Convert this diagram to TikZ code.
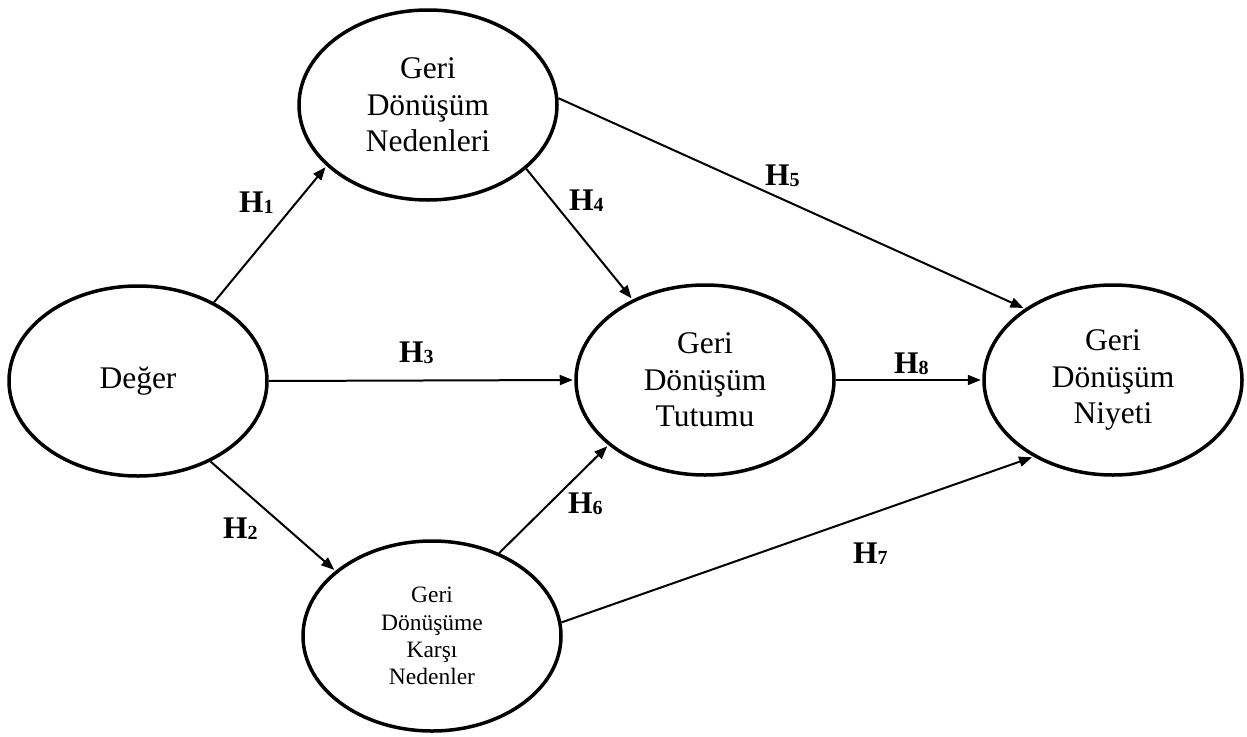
\documentclass[tikz,border=0pt]{standalone}
\usepackage{fontspec}
\setmainfont{Liberation Serif}
\usetikzlibrary{shapes.geometric,arrows.meta}

\newcommand{\hlab}[1]{\textbf{H\raisebox{-1pt}{\fontsize{20}{20}\selectfont\bfseries #1}}}

\begin{document}
\begin{tikzpicture}[x=1pt, y=-1pt, line join=round, >={Triangle[length=13pt,width=10pt]},
	construct/.style={ellipse, draw, line width=3.5pt, minimum width=258pt, minimum height=190pt, inner sep=0pt, align=center, font=\fontsize{31.5}{36.5}\selectfont},
	link/.style={->, line width=2pt, shorten >=1.5pt},
	hyp/.style={anchor=base west, inner sep=0pt, font=\fontsize{31.5}{36.5}\selectfont}]
			\useasboundingbox (0,0) rectangle (1247,736);
			
			\node[construct] (deger) at (138,381) {Değer};
			\node[construct] (neden) at (428,105) {Geri\\Dönüşüm\\Nedenleri};
			\node[construct] (tutum) at (705,380) {Geri\\Dönüşüm\\Tutumu};
			\node[construct] (niyet) at (1113,380) {Geri\\Dönüşüm\\Niyeti};
			\node[construct, font=\fontsize{23.5}{27.3}\selectfont] (karsi) at (432,636) {Geri\\Dönüşüme\\Karşı\\Nedenler};
			
			\draw[link] (deger.46.7) -- (neden.211.5);
			\draw[link] (deger.-48.4) -- (karsi.146.2);
			\draw[link] (deger.east) -- (tutum.west);
			\draw[link] (neden.-33.8) -- (tutum.132.3);
			\draw[link] (neden.3) -- (niyet.141.3);
			\draw[link] (karsi.51) -- (tutum.214.6);
			\draw[link] (karsi.6) -- (niyet.224.7);
			\draw[link] (tutum.east) -- (niyet.west);
			
			\node[hyp] (h1) at (239,212) {\hlab{1}};
			\node[hyp] (h2) at (223,538) {\hlab{2}};
			\node[hyp] (h3) at (399,362) {\hlab{3}};
			\node[hyp] (h4) at (569,210) {\hlab{4}};
			\node[hyp] (h5) at (765,185) {\hlab{5}};
			\node[hyp] (h6) at (568,513) {\hlab{6}};
			\node[hyp] (h7) at (853,563) {\hlab{7}};
			\node[hyp] (h8) at (894,373) {\hlab{8}};
		\end{tikzpicture}
\end{document}
